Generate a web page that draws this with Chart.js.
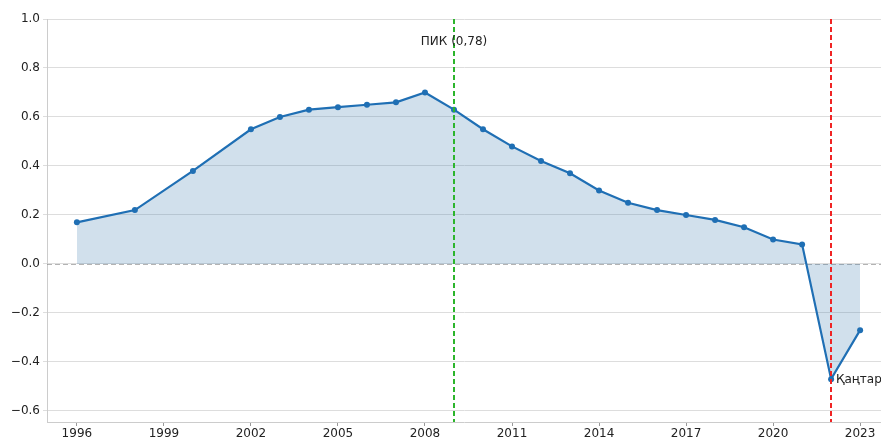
<!DOCTYPE html>
<html><head><meta charset="utf-8">
<script src="https://cdn.jsdelivr.net/npm/chart.js@4"></script>
<style>html,body{margin:0;padding:0;background:#fff}#wrap{width:881px;height:440px}</style>
</head><body><div id="wrap"><canvas id="c" width="881" height="440"></canvas></div>
<script>
const years = [1996,1998,2000,2002,2003,2004,2005,2006,2007,2008,2009,2010,2011,2012,2013,2014,2015,2016,2017,2018,2019,2020,2021,2022,2023];
const values = [0.17,0.22,0.38,0.55,0.60,0.63,0.64,0.65,0.66,0.70,0.63,0.55,0.48,0.42,0.37,0.30,0.25,0.22,0.20,0.18,0.15,0.10,0.08,-0.47,-0.27];
const xTicks = [1996,1999,2002,2005,2008,2011,2014,2017,2020,2023];
const yTicks = [-0.6,-0.4,-0.2,0.0,0.2,0.4,0.6,0.8,1.0];
const peakYear = 2009, peakLabel = 'ПИК (0,78)', peakLabelY = 0.905;
const janYear = 2022, janLabel = 'Қаңтар', janLabelY = -0.475;

const overlay = {
  id:'overlay',
  beforeDatasetsDraw(chart){
    const {ctx, chartArea:a, scales:{x,y}} = chart;
    ctx.save();
    ctx.strokeStyle='rgba(128,128,128,0.6)'; ctx.lineWidth=1; ctx.setLineDash([5,3]);
    const y0=Math.round(y.getPixelForValue(0))+0.5;
    ctx.beginPath(); ctx.moveTo(a.left,y0); ctx.lineTo(a.right,y0); ctx.stroke();
    ctx.restore();
  },
  afterDatasetsDraw(chart){
    const {ctx, chartArea:a, scales:{x,y}} = chart;
    ctx.save();
    ctx.lineWidth=2; ctx.setLineDash([5,3]);
    ctx.strokeStyle='#2cb52c';
    let px=Math.round(x.getPixelForValue(peakYear));
    ctx.beginPath(); ctx.moveTo(px,a.top); ctx.lineTo(px,a.bottom); ctx.stroke();
    ctx.strokeStyle='#f02424';
    let rx=Math.round(x.getPixelForValue(janYear));
    ctx.beginPath(); ctx.moveTo(rx,a.top); ctx.lineTo(rx,a.bottom); ctx.stroke();
    ctx.setLineDash([]);
    ctx.fillStyle='#222'; ctx.font='12px "DejaVu Sans"'; ctx.textBaseline='middle';
    ctx.textAlign='center';
    ctx.fillText(peakLabel, px, y.getPixelForValue(peakLabelY));
    ctx.textAlign='left';
    ctx.fillText(janLabel, rx+5, y.getPixelForValue(janLabelY));
    ctx.restore();
  }
};

new Chart(document.getElementById('c'), {
  type:'line',
  data:{datasets:[{
    data: years.map((yr,i)=>({x:yr,y:values[i]})),
    borderColor:'#1f6fb4', backgroundColor:'rgba(70,130,180,0.25)',
    borderWidth:2.2, pointRadius:3, pointBackgroundColor:'#1f6fb4', pointBorderWidth:0,
    fill:'origin', tension:0
  }]},
  options:{
    responsive:false, animation:false, devicePixelRatio:1,
    layout:{autoPadding:false, padding:{top:19,right:0,left:0,bottom:0}},
    plugins:{legend:{display:false}, tooltip:{enabled:false}},
    scales:{
      x:{type:'linear', min:1994.97, max:2023.72,
        afterBuildTicks(s){ s.ticks = xTicks.map(v=>({value:v})); },
        afterFit(s){ s.height=18; },
        ticks:{color:'#222', font:{family:'DejaVu Sans',size:12}, padding:1, maxRotation:0, autoSkip:false, callback:v=>String(v)},
        grid:{drawOnChartArea:false, drawTicks:true, tickLength:4, color:'#999'},
        border:{color:'#ccc', width:1}
      },
      y:{type:'linear', min:-0.645, max:1.0,
        afterBuildTicks(s){ s.ticks = yTicks.map(v=>({value:v})); },
        afterFit(s){ s.width=47; },
        ticks:{color:'#222', font:{family:'DejaVu Sans',size:12}, padding:3,
          callback:v=>(v<0?'\u2212':'')+Math.abs(v).toFixed(1)},
        grid:{color:'#dddddd', drawTicks:true, tickLength:4},
        border:{color:'#ccc', width:1}
      }
    }
  },
  plugins:[overlay]
});
</script></body></html>
